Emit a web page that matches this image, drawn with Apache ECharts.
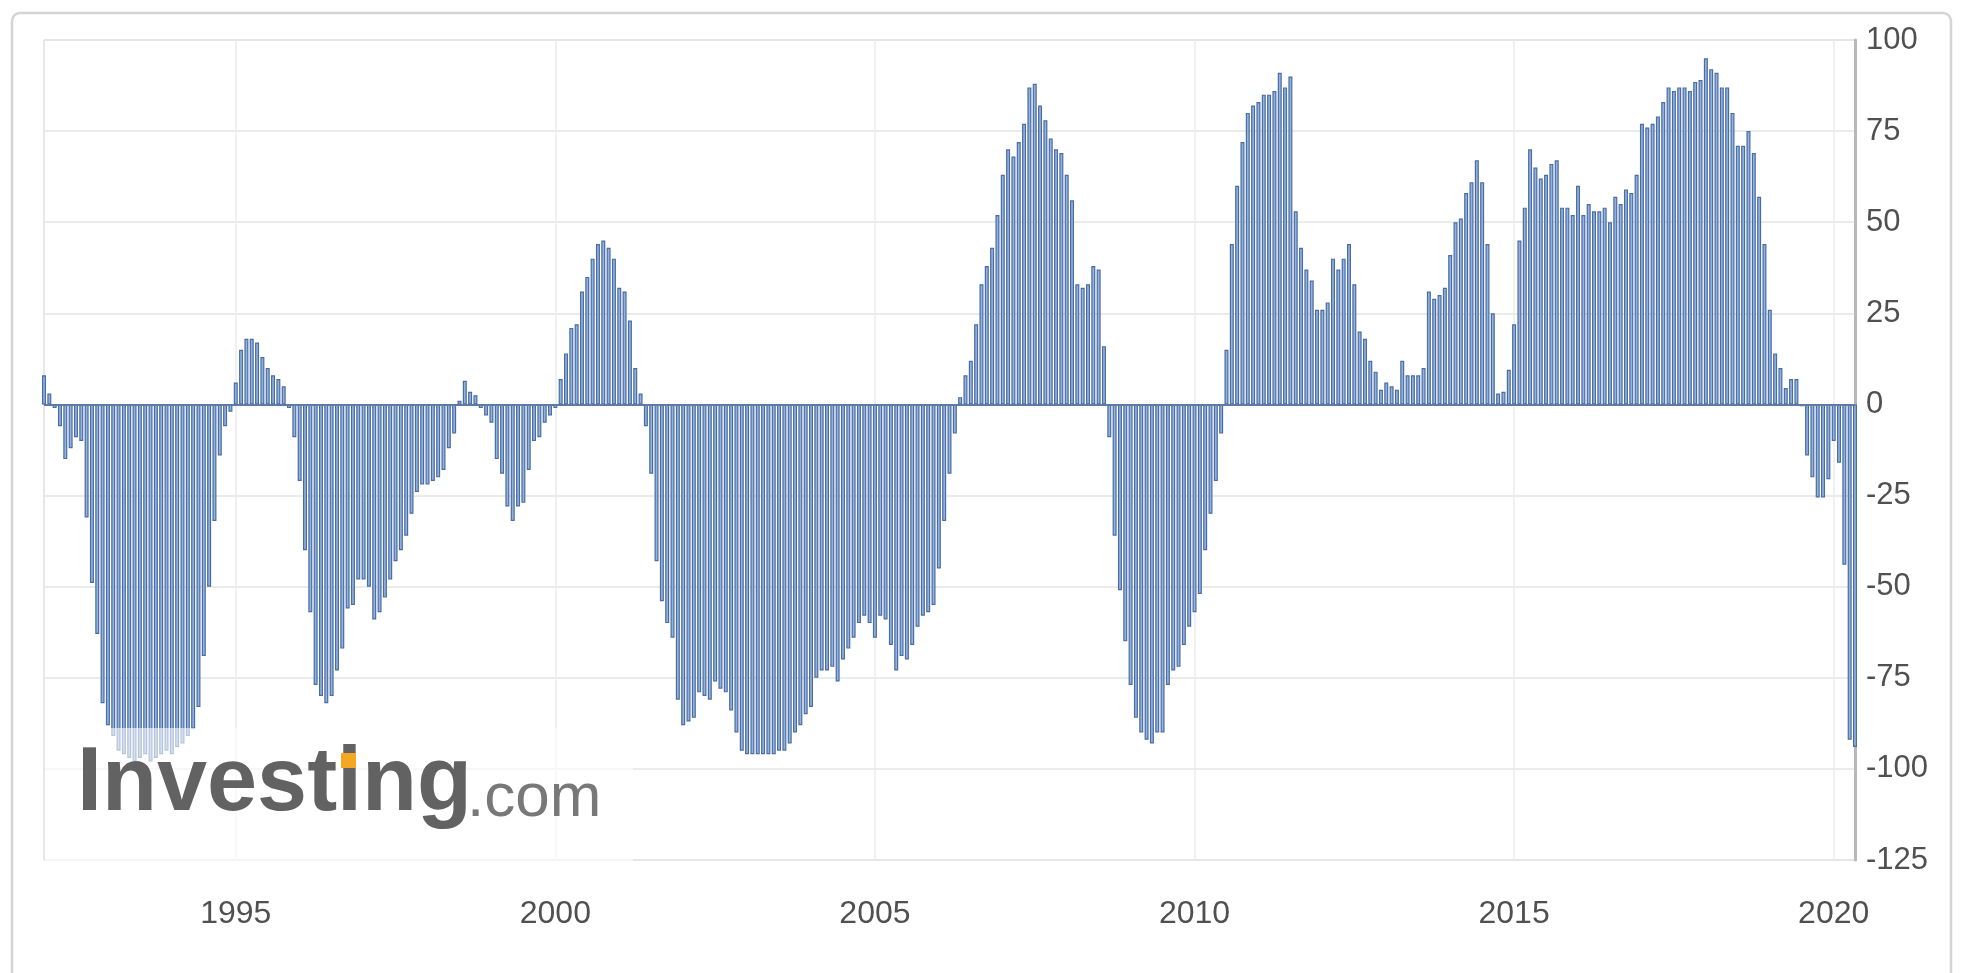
<!DOCTYPE html>
<html>
<head>
<meta charset="utf-8">
<script src="https://cdn.jsdelivr.net/npm/echarts@6/dist/echarts.min.js"></script>
<style>
html,body{margin:0;padding:0;background:#fff;}
#chart{width:1964px;height:973px;}
</style>
</head>
<body>
<div id="chart"></div>
<script>
// Monthly values (Jan 1992 - May 2020)
const y1992 = [8, 3, -1, -6, -15, -12, -9, -10, -31, -49, -63, -82];
const y1993 = [-88, -91, -95, -96, -97, -98, -97, -96, -98, -97, -96, -95];
const y1994 = [-96, -94, -93, -91, -89, -83, -69, -50, -32, -14, -6, -2];
const y1995 = [6, 15, 18, 18, 17, 13, 10, 8, 7, 5, -1, -9];
const y1996 = [-21, -40, -57, -77, -80, -82, -80, -73, -67, -56, -55, -48];
const y1997 = [-48, -50, -59, -57, -53, -48, -43, -40, -36, -30, -24, -22];
const y1998 = [-22, -21, -20, -18, -12, -8, 1, 6.5, 3.5, 2.5, -1, -3];
const y1999 = [-5, -15, -19, -28, -32, -28, -27, -18, -10, -9, -5, -3];
const y2000 = [-1, 7, 14, 21, 22, 31, 35, 40, 44, 45, 43, 40];
const y2001 = [32, 31, 23, 10, 3, -6, -19, -43, -54, -60, -64, -81];
const y2002 = [-88, -87, -86, -79, -80, -81, -76, -78, -79, -84, -90, -95];
const y2003 = [-96, -96, -96, -96, -96, -96, -95, -95, -93, -90, -88, -85];
const y2004 = [-83, -75, -73, -73, -72, -76, -70, -67, -64, -60, -58, -60];
const y2005 = [-64, -58, -59, -66, -73, -69, -70, -66, -61, -58, -57, -55];
const y2006 = [-45, -32, -19, -8, 2, 8, 12, 22, 33, 38, 43, 52];
const y2007 = [63, 70, 68, 72, 77, 87, 88, 82, 78, 73, 70, 69];
const y2008 = [63, 56, 33, 32, 33, 38, 37, 16, -9, -36, -51, -65];
const y2009 = [-77, -86, -90, -92, -93, -90, -90, -77, -73, -72, -66, -61];
const y2010 = [-57, -52, -40, -30, -21, -8, 15, 44, 60, 72, 80, 82];
const y2011 = [83, 85, 85, 86, 91, 87, 90, 53, 43, 37, 34, 26];
const y2012 = [26, 28, 40, 37, 40, 44, 33, 20, 18, 12, 9, 4];
const y2013 = [6, 5, 4, 12, 8, 8, 8, 10, 31, 29, 30, 32];
const y2014 = [41, 50, 51, 58, 61, 67, 61, 44, 25, 3, 3.5, 9.5];
const y2015 = [22, 45, 54, 70, 65, 62, 63, 66, 67, 54, 54, 52];
const y2016 = [60, 52, 55, 53, 53, 54, 50, 57, 55, 59, 58, 63];
const y2017 = [77, 76, 77, 79, 83, 87, 86, 87, 87, 86, 88.5, 89];
const y2018 = [95, 92, 91, 87, 87, 80, 71, 71, 75, 69, 57, 44];
const y2019 = [26, 14, 10, 4.5, 7, 7, -0.5, -14, -20, -25.5, -25.5, -20.5];
const y2020 = [-10, -16, -44, -92, -94];

const yearTicks = ['1995', '2000', '2005', '2010', '2015', '2020'];
const yTicks = { min: -125, max: 100, step: 25 };

const years = [
  [1992, y1992], [1993, y1993], [1994, y1994], [1995, y1995], [1996, y1996],
  [1997, y1997], [1998, y1998], [1999, y1999], [2000, y2000], [2001, y2001],
  [2002, y2002], [2003, y2003], [2004, y2004], [2005, y2005], [2006, y2006],
  [2007, y2007], [2008, y2008], [2009, y2009], [2010, y2010], [2011, y2011],
  [2012, y2012], [2013, y2013], [2014, y2014], [2015, y2015], [2016, y2016],
  [2017, y2017], [2018, y2018], [2019, y2019], [2020, y2020]
];
const months = [];
const values = [];
years.forEach(([yr, arr]) => {
  arr.forEach((v, i) => {
    months.push(yr + '-' + String(i + 1).padStart(2, '0'));
    values.push(v);
  });
});
const isTick = (v) => v.endsWith('-01') && yearTicks.includes(v.slice(0, 4));

const chart = echarts.init(document.getElementById('chart'), null, { renderer: 'canvas' });
const FONT = '"Liberation Sans", Arial, sans-serif';
chart.setOption({
  animation: false,
  backgroundColor: '#ffffff',
  grid: { left: 44, right: 109, top: 40, bottom: 113, show: true, borderColor: '#cfcfcf', borderWidth: 1, backgroundColor: 'transparent' },
  xAxis: {
    type: 'category',
    data: months,
    boundaryGap: false,
    axisLine: { show: true, lineStyle: { color: '#cfcfcf', width: 1.5 } },
    axisTick: { show: false },
    axisLabel: {
      interval: (i, v) => isTick(v),
      formatter: (v) => v.slice(0, 4),
      margin: 38, color: '#505050', fontSize: 32, fontFamily: FONT
    },
    splitLine: { show: true, interval: (i, v) => isTick(v), lineStyle: { color: '#ebebeb', width: 1.5 } }
  },
  yAxis: {
    type: 'value',
    position: 'right',
    min: yTicks.min, max: yTicks.max, interval: yTicks.step,
    axisLine: { show: true, lineStyle: { color: '#b8b8b8', width: 3 } },
    axisTick: { show: false },
    axisLabel: { color: '#505050', fontSize: 31, margin: 11, fontFamily: FONT },
    splitLine: { lineStyle: { color: '#e4e4e4', width: 1.5 } }
  },
  series: [{
    type: 'bar',
    data: values,
    barWidth: 4,
    itemStyle: { color: '#93b3df', borderColor: '#4a6ca3', borderWidth: 1.2 },
    markLine: {
      silent: true, symbol: 'none', label: { show: false },
      lineStyle: { color: '#5f7aa6', width: 2, type: 'solid' },
      data: [{ yAxis: 0 }]
    }
  }],
  graphic: [
    { type: 'rect', z: 50, shape: { x: 45, y: 728, width: 588, height: 134 }, style: { fill: 'rgba(255,255,255,0.6)' } },
    { type: 'text', z: 60, style: { text: 'Investing', x: 77, y: 830, font: 'bold 90px ' + FONT, fill: '#626262', verticalAlign: 'bottom' } },
    { type: 'text', z: 60, style: { text: '.com', x: 467, y: 830, font: '62px ' + FONT, fill: '#787878', verticalAlign: 'bottom' } },
    { type: 'rect', z: 70, shape: { x: 341, y: 753, width: 15, height: 15 }, style: { fill: '#f5a623' } },
    { type: 'rect', z: 80, shape: { x: 12, y: 13, width: 1939, height: 1000, r: 8 }, style: { fill: 'none', stroke: '#d4d4d4', lineWidth: 2.5 } }
  ]
});
</script>
</body>
</html>
